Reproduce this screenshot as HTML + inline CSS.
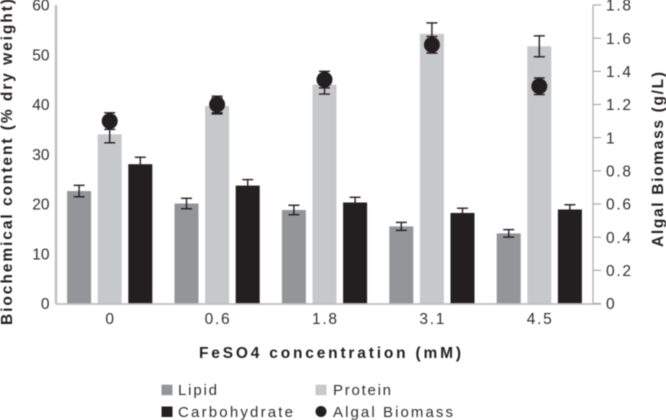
<!DOCTYPE html>
<html>
<head>
<meta charset="utf-8">
<style>
html,body{margin:0;padding:0;background:#fff;}
svg{display:block;font-family:"Liberation Sans",sans-serif;}
text{fill:#2f2f31;}
.bold{font-weight:bold;fill:#231f20;}
</style>
</head>
<body>
<svg id="chart" width="666" height="420" viewBox="0 0 666 420" xmlns="http://www.w3.org/2000/svg">
<g id="root" style="filter:blur(0.4px)"></g>
</svg>
<script>
const categories = ['0', '0.6', '1.8', '3.1', '4.5'];
const lipid = [22.6, 20.1, 18.8, 15.5, 14.1];
const lipidErr = [1.15, 1.05, 0.95, 0.8, 0.75];
const protein = [34, 39.7, 44, 54.2, 51.7];
const proteinErr = [1.7, 1.6, 1.9, 2.2, 2.1];
const carbohydrate = [28, 23.7, 20.3, 18.2, 18.9];
const carbohydrateErr = [1.4, 1.2, 1.05, 0.95, 0.95];
const biomass = [1.1, 1.2, 1.35, 1.56, 1.31];
const biomassErr = [0.05, 0.05, 0.05, 0.05, 0.05];
const leftTicks = [0, 10, 20, 30, 40, 50, 60];
const rightTicks = ['0', '0.2', '0.4', '0.6', '0.8', '1', '1.2', '1.4', '1.6', '1.8'];

const NS = 'http://www.w3.org/2000/svg';
const root = document.getElementById('root');
const plotLeft = 56, plotRight = 593, plotTop = 5, plotBottom = 303.5;
const leftMax = 60, rightMax = 1.8;
const yLeft = v => plotBottom - (v / leftMax) * (plotBottom - plotTop);
const yRight = v => plotBottom - (v / rightMax) * (plotBottom - plotTop);
const groupW = (plotRight - plotLeft) / categories.length;
const xCenter = i => plotLeft + groupW * (i + 0.5);
const barW = 24, barStep = 30.6;

function make(tag, attrs, parent) {
  const el = document.createElementNS(NS, tag);
  for (const k in attrs) el.setAttribute(k, attrs[k]);
  (parent || root).appendChild(el);
  return el;
}
function line(x1, y1, x2, y2, stroke, w, name) {
  const el = make('line', {x1: x1, y1: y1, x2: x2, y2: y2, stroke: stroke, 'stroke-width': w});
  
  
  return el;
}
function label(str, x, y, size, anchor, name, cls, len) {
  const el = make('text', {x: x, y: y, 'font-size': size, 'text-anchor': anchor});
  if (cls) el.setAttribute('class', cls);
  if (len) { el.setAttribute('textLength', len); el.setAttribute('lengthAdjust', 'spacing'); }
  el.textContent = str;
  
  
  return el;
}
function errorBar(x, yTop, yBot, name) {
  const c = '#231f20';
  line(x, yTop, x, yBot, c, 1.4, name);
  line(x - 5.5, yTop, x + 5.5, yTop, c, 1.4, name + '-cap-top');
  line(x - 5.5, yBot, x + 5.5, yBot, c, 1.4, name + '-cap-bottom');
}
function drawBars(vals, errs, offset, color, key) {
  vals.forEach((v, i) => {
    const cx = xCenter(i) + offset;
    const r = make('rect', {x: cx - barW / 2, y: yLeft(v), width: barW, height: plotBottom - yLeft(v), fill: color});
    
    
  });
}
function drawErrs(vals, errs, offset, key) {
  vals.forEach((v, i) => {
    errorBar(xCenter(i) + offset, yLeft(v + errs[i]), yLeft(v - errs[i]), 'error-bar-' + key + '-' + categories[i]);
  });
}

drawBars(lipid, lipidErr, -barStep, '#939598', 'lipid');
drawBars(protein, proteinErr, 0, '#c7c8ca', 'protein');
drawBars(carbohydrate, carbohydrateErr, barStep, '#231f20', 'carbohydrate');
drawErrs(lipid, lipidErr, -barStep, 'lipid');
drawErrs(protein, proteinErr, 0, 'protein');
drawErrs(carbohydrate, carbohydrateErr, barStep, 'carbohydrate');

line(plotLeft, plotTop, plotLeft, plotBottom + 0.5, '#bcbec0', 2.4, 'left-axis-line');
line(plotRight, plotTop, plotRight, plotBottom, '#a7a9ac', 1.2, 'right-axis-line');
line(plotLeft, plotBottom + 0.5, 601, plotBottom + 0.5, '#bcbec0', 1.8, 'x-axis-line');

biomass.forEach((v, i) => {
  const cx = xCenter(i);
  errorBar(cx, yRight(v + biomassErr[i]), yRight(v - biomassErr[i]), 'error-bar-biomass-' + categories[i]);
  const c = make('circle', {cx: cx, cy: yRight(v), r: 8, fill: '#231f20'});
  
  
});

leftTicks.forEach(t => {
  label(String(t), 49.5, yLeft(t) + 5.7, 15.5, 'end', 'left-tick-label-' + t);
});
rightTicks.forEach(t => {
  const y = yRight(parseFloat(t));
  line(plotRight, y, 601, y, '#a7a9ac', 1.2, 'right-tick-' + t);
  label(t, 606, y + 5.7, 15.5, 'start', 'right-tick-label-' + t, null, t.length > 1 ? 25 : null);
});
categories.forEach((c, i) => {
  label(c, xCenter(i), 324, 15.5, 'middle', 'x-tick-label-' + c, null, c.length > 1 ? 25 : null);
});

label('FeSO4 concentration (mM)', 199, 358, 15.5, 'start', 'x-axis-title', 'bold', 262);

const yt = label('Biochemical content (% dry weight)', 0, 0, 15.5, 'start', 'left-axis-title', 'bold', 326);
yt.setAttribute('transform', 'translate(12,325) rotate(-90)');
const yt2 = label('Algal Biomass (g/L)', 0, 0, 15.5, 'start', 'right-axis-title', 'bold', 175);
yt2.setAttribute('transform', 'translate(663,247) rotate(-90)');

function swatch(x, y, color, name) {
  const r = make('rect', {x: x, y: y, width: 11, height: 10.5, fill: color});
  
  
}
swatch(161.5, 384.7, '#939598', 'legend-swatch-lipid');
label('Lipid', 178, 395, 15, 'start', 'legend-label-lipid', null, 39);
swatch(315.5, 384.7, '#c7c8ca', 'legend-swatch-protein');
label('Protein', 333, 395, 15, 'start', 'legend-label-protein', null, 58);
swatch(161.5, 406.5, '#231f20', 'legend-swatch-carbohydrate');
label('Carbohydrate', 178, 417, 15, 'start', 'legend-label-carbohydrate', null, 115);
const lc = make('circle', {cx: 321, cy: 411.5, r: 5.5, fill: '#231f20'});


label('Algal Biomass', 333, 417, 15, 'start', 'legend-label-biomass', null, 120);
</script>
</body>
</html>
